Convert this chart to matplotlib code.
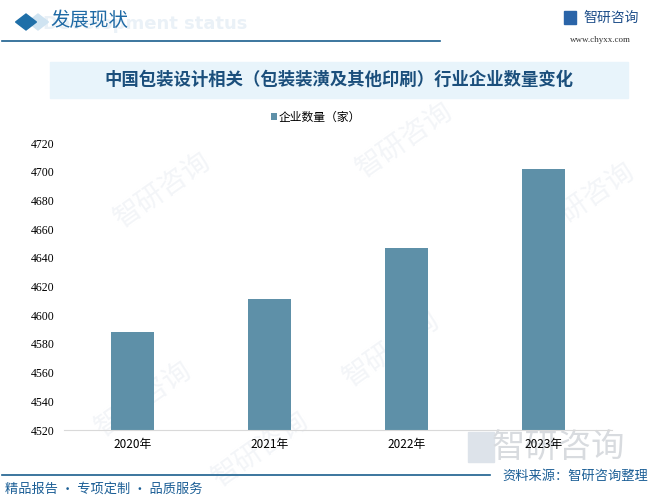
import matplotlib
matplotlib.use('Agg')
from matplotlib import pyplot as plt
from matplotlib.patches import Rectangle, RegularPolygon

plt.rcParams['font.family'] = ['Noto Sans CJK SC', 'DejaVu Sans']

years = ['2020年', '2021年', '2022年', '2023年']
counts = [4588, 4611, 4647, 4702]
y_ticks = list(range(4520, 4721, 20))

bar_color = '#5e90a8'
dark_blue = '#1c5f96'

fig = plt.figure(figsize=(6.52, 4.99), dpi=100)

# faint watermarks, behind everything
for (wx, wy) in [(0.25, 0.62), (0.62, 0.72), (0.9, 0.6),
                 (0.22, 0.2), (0.6, 0.3), (0.4, 0.1)]:
    fig.text(wx, wy, '智研咨询', fontsize=20, color='#f3f5f8', rotation=35,
             ha='center', va='center', zorder=-10)

# header
fig.patches.append(RegularPolygon((26 / 652, 1 - 22 / 499), 4, radius=0.016,
                                  transform=fig.transFigure, color='#1f6fa8'))
fig.patches.append(RegularPolygon((38 / 652, 1 - 22 / 499), 4, radius=0.016,
                                  transform=fig.transFigure, color='#cfe3f1', zorder=-1))
fig.text(145 / 652, 1 - 24 / 499, 'Development status', fontsize=13, weight='bold',
         color='#eaf1f7', ha='center', va='center', family='DejaVu Sans', zorder=-5)
fig.text(50 / 652, 1 - 21 / 499, '发展现状', fontsize=14, color='#1f6aa5',
         ha='left', va='center')
fig.add_artist(plt.Line2D([0.003, 440 / 652], [1 - 41 / 499, 1 - 41 / 499],
                          color='#1a5f8e', lw=1.2, transform=fig.transFigure))
fig.text(583 / 652, 1 - 18 / 499, '智研咨询', fontsize=10, color='#1f4f8a',
         ha='left', va='center')
fig.patches.append(Rectangle((564 / 652, 1 - 24 / 499), 12 / 652, 13 / 499,
                             transform=fig.transFigure, color='#2a64a8'))
fig.text(600 / 652, 1 - 40 / 499, 'www.chyxx.com', fontsize=6.5, color='#333333',
         ha='center', va='center', family='Liberation Serif')

# title box
fig.patches.append(Rectangle((50 / 652, 1 - 98 / 499), 578 / 652, 36 / 499,
                             transform=fig.transFigure, color='#e8f4fb', zorder=0))
fig.text(339 / 652, 1 - 80 / 499, '中国包装设计相关（包装装潢及其他印刷）行业企业数量变化',
         fontsize=12.5, weight='bold', color='#1b4f7c', ha='center', va='center')

# chart
ax = fig.add_axes([64 / 652, 69 / 499, 548 / 652, 287 / 499])
ax.patch.set_alpha(0)
ax.bar(years, counts, width=0.315, color=bar_color, label='企业数量（家）', zorder=2)
ax.set_ylim(4520, 4720)
ax.set_xlim(-0.5, len(years) - 0.5)
ax.set_yticks(y_ticks)
ax.set_yticklabels([str(t) for t in y_ticks], family='Liberation Serif', fontsize=8.5)
for lab in ax.get_xticklabels():
    lab.set_fontsize(8.5)
ax.tick_params(axis='y', length=0, pad=7)
ax.tick_params(axis='x', length=0, pad=6)
for s in ['top', 'right', 'left']:
    ax.spines[s].set_visible(False)
ax.spines['bottom'].set_color('#d9d9d9')

ax.legend(loc='lower center', bbox_to_anchor=(0.46, 1.03), frameon=False,
          fontsize=8.5, handlelength=0.5, handleheight=0.5, handletextpad=0.2)

# big watermark logo bottom right
fig.text(558 / 652, 1 - 447 / 499, '智研咨询', fontsize=24, color='#d8dbdf',
         ha='center', va='center', zorder=-1)
fig.patches.append(Rectangle((468 / 652, 1 - 462 / 499), 26 / 652, 30 / 499,
                             transform=fig.transFigure, color='#dde3ea', zorder=-1))

# footer
fig.add_artist(plt.Line2D([0.003, 490 / 652], [1 - 475 / 499, 1 - 475 / 499],
                          color='#1a5f8e', lw=1.2, transform=fig.transFigure))
fig.text(648 / 652, 1 - 476 / 499, '资料来源：智研咨询整理', fontsize=9.5, color=dark_blue,
         ha='right', va='center')
fig.text(5 / 652, 1 - 489 / 499, '精品报告 · 专项定制 · 品质服务', fontsize=9.5, color=dark_blue,
         ha='left', va='center')

fig.savefig('out.png', dpi=100)
